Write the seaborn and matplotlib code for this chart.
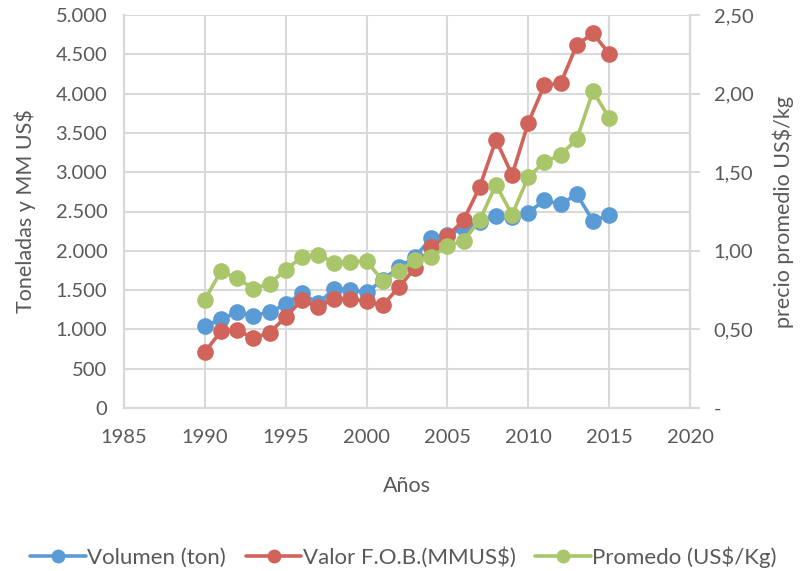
import matplotlib
matplotlib.use("Agg")
import matplotlib.pyplot as plt
import seaborn as sns
import pandas as pd
from matplotlib.lines import Line2D
from matplotlib.ticker import FuncFormatter, MultipleLocator

years = list(range(1990, 2016))
volumen = [1043, 1130, 1220, 1175, 1220, 1320, 1460, 1330, 1515, 1505, 1470, 1630, 1790,
           1920, 2165, 2200, 2290, 2370, 2440, 2435, 2485, 2645, 2590, 2720, 2380, 2455]
valor = [715, 975, 990, 890, 960, 1155, 1375, 1285, 1390, 1390, 1355, 1305, 1540,
         1780, 2050, 2185, 2390, 2815, 3410, 2965, 3630, 4110, 4130, 4620, 4765, 4510]
promedio = [0.69, 0.87, 0.825, 0.76, 0.79, 0.88, 0.96, 0.975, 0.925, 0.93, 0.935, 0.81, 0.87,
            0.94, 0.96, 1.03, 1.065, 1.195, 1.42, 1.23, 1.47, 1.565, 1.61, 1.71, 2.015, 1.845]
series_names = ["Volumen (ton)", "Valor F.O.B.(MMUS$)", "Promedo (US$/Kg)"]
colors = ["#5B9BD5", "#D0635A", "#A9C66A"]

sns.set_theme(style="white")
plt.rcParams['font.family'] = ['Lato', 'DejaVu Sans']
text_col = "#595959"
grid_col = "#D9D9D9"

fig = plt.figure(figsize=(8.07, 5.71), dpi=100)
ax = fig.add_axes([124/807, 1 - 408/571, (690-124)/807, (408-15)/571])

df = pd.DataFrame({
    "Año": years * 2,
    "valor": volumen + valor,
    "serie": [series_names[0]] * len(years) + [series_names[1]] * len(years),
})
sns.lineplot(data=df, x="Año", y="valor", hue="serie", palette=colors[:2],
             marker="o", markersize=12, markeredgewidth=0, linewidth=2.6,
             ax=ax, legend=False)

ax2 = ax.twinx()
sns.lineplot(x=years, y=promedio, color=colors[2], marker="o", markersize=12,
             markeredgewidth=0, linewidth=2.6, ax=ax2, legend=False)

ax.set_xlim(1985, 2020)
ax.set_ylim(0, 5000)
ax2.set_ylim(0, 2.5)
ax.xaxis.set_major_locator(MultipleLocator(5))
ax.yaxis.set_major_locator(MultipleLocator(500))
ax2.yaxis.set_major_locator(MultipleLocator(0.5))

ax.yaxis.set_major_formatter(FuncFormatter(lambda v, p: f"{int(round(v)):,}".replace(",", ".")))
ax2.yaxis.set_major_formatter(FuncFormatter(lambda v, p: "-" if abs(v) < 1e-9 else f"{v:.2f}".replace(".", ",")))

ax.grid(True, color=grid_col, linewidth=1.5)
ax.set_axisbelow(True)
for s in ["top"]:
    ax.spines[s].set_visible(False)
    ax2.spines[s].set_visible(False)
for a in (ax, ax2):
    for s in ["left", "right", "bottom"]:
        a.spines[s].set_color(grid_col)
        a.spines[s].set_linewidth(1.5)

ax.tick_params(axis="x", labelsize=14.5, colors=text_col, length=0, pad=15)
ax.tick_params(axis="y", labelsize=14.5, colors=text_col, length=0, pad=12)
ax2.tick_params(axis="y", labelsize=14.5, colors=text_col, direction="out", length=7,
                width=1.5, color=grid_col, pad=10, right=True)

ax.set_xlabel("Años", fontsize=15.5, color=text_col, labelpad=22)
ax.set_ylabel("Toneladas y MM US$", fontsize=15.5, color=text_col, labelpad=14)
ax2.set_ylabel("precio promedio US$/kg", fontsize=15.5, color=text_col, labelpad=14)

handles = [Line2D([0], [0], color=c, linewidth=2.6, marker="o", markersize=10,
                  markeredgewidth=0) for c in colors]
fig.legend(handles, series_names, loc="lower center", bbox_to_anchor=(0.5, -0.03),
           ncol=3, frameon=False, fontsize=16, handlelength=2.5, handletextpad=0.05,
           columnspacing=0.9, labelcolor=text_col)

fig.savefig("out.png", dpi=100)
